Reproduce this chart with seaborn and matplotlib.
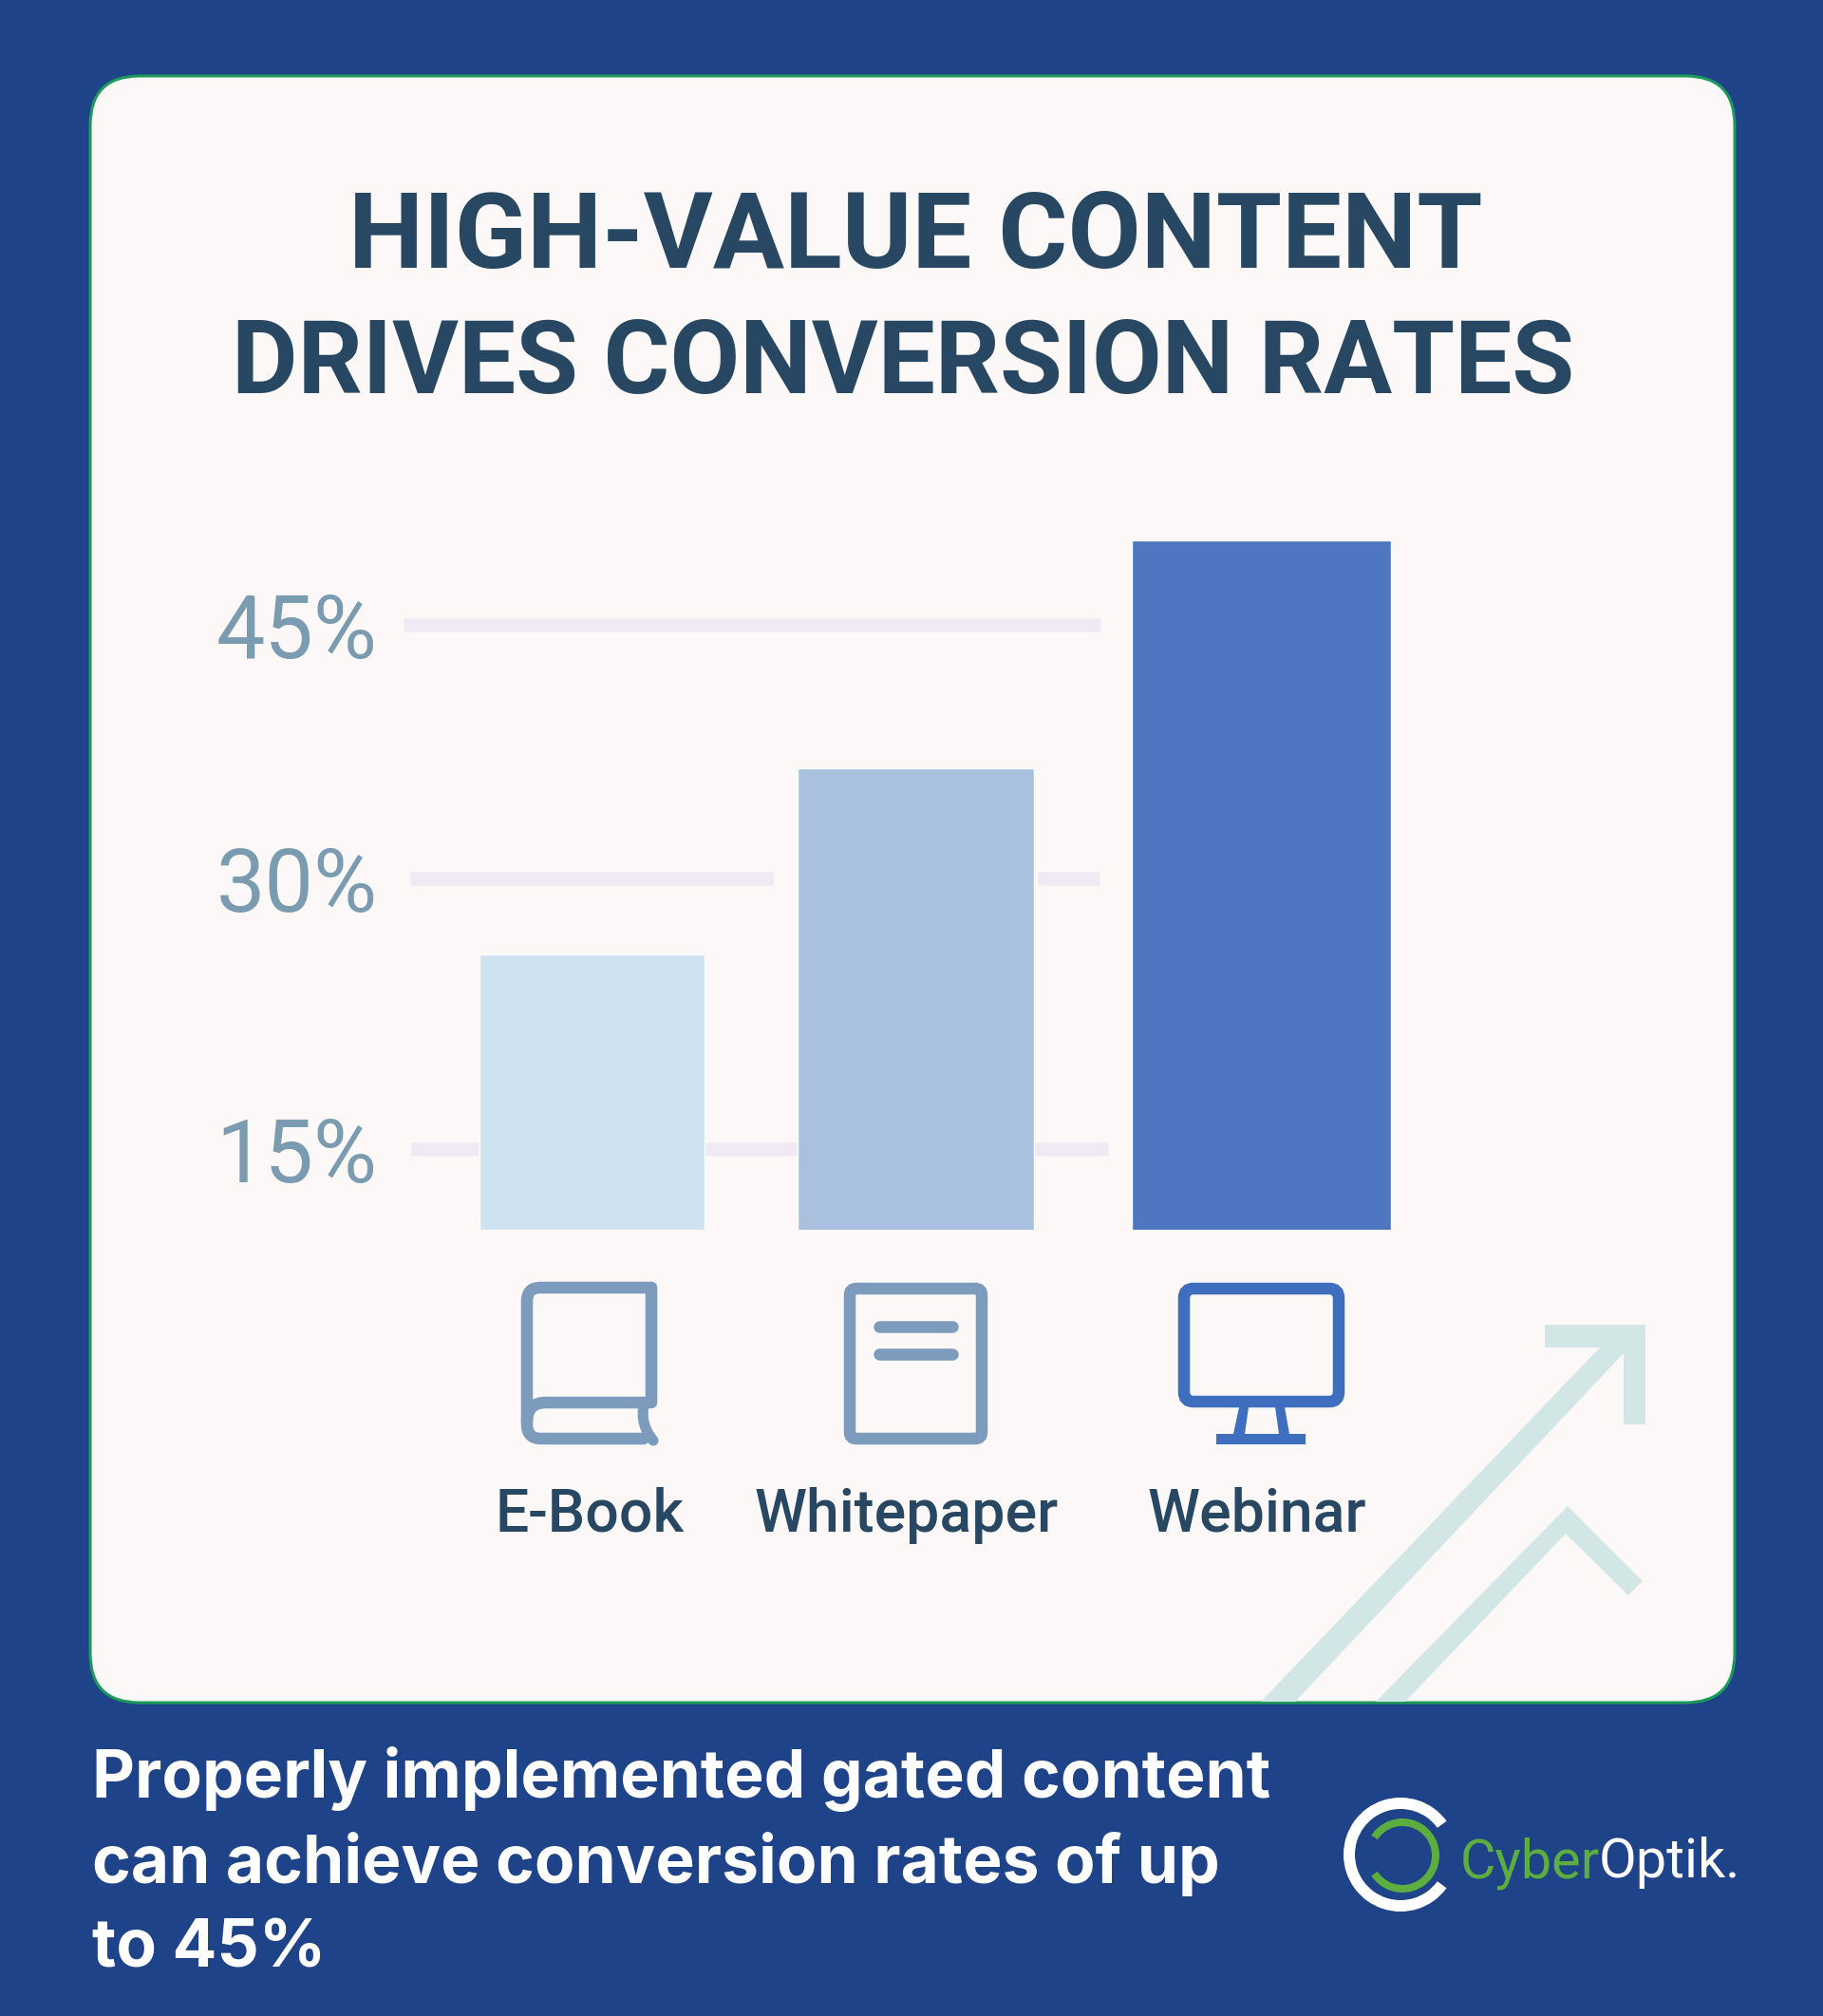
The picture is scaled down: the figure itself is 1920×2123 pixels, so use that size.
import numpy as np
import pandas as pd
import matplotlib
matplotlib.use("Agg")
import matplotlib.pyplot as plt
from matplotlib.patches import FancyBboxPatch, Polygon, Wedge, PathPatch
from matplotlib.path import Path
from matplotlib.ticker import NullLocator
import seaborn as sns

# ---- data ----
categories = ["E-Book", "Whitepaper", "Webinar"]
rates = [25.8, 36.5, 50.0]
tick_values = [15, 30, 45]
tick_labels = ["15%", "30%", "45%"]
title_lines = ["HIGH-VALUE CONTENT", "DRIVES CONVERSION RATES"]
caption_lines = ["Properly implemented gated content", "can achieve conversion rates of up", "to 45%"]

# ---- colours ----
NAVY = "#1F4388"
CARD = "#FBF8F7"
BORDER = "#1C9A5C"
BAR_COLORS = ["#CFE2EF", "#A9C1DE", "#4F77C1"]
ICON_GREY = "#7D9BBC"
ICON_BLUE = "#3F6EBE"
GRID = "#F0EAF4"
ARROW = "#D3E6E6"
TITLE = "#284762"
TICK = "#7A9BB0"
GREEN = "#5BAE3F"

W, H = 1920, 2123
sns.set_theme(style="white")
plt.rcParams["font.family"] = ["Inter", "DejaVu Sans"]

fig = plt.figure(figsize=(W / 100, H / 100), dpi=100, facecolor=NAVY)

# pixel-space layer for the card, icons and decoration
bg = fig.add_axes([0, 0, 1, 1], zorder=0)
bg.set_xlim(0, W)
bg.set_ylim(H, 0)
bg.axis("off")

bg.add_patch(FancyBboxPatch((95, 80), 1732, 1713, boxstyle="round,pad=0,rounding_size=52",
                            fc=CARD, ec=BORDER, lw=2.2, zorder=1))

# decorative arrows
bg.add_patch(Polygon([(1328, 1792), (1685, 1419), (1627, 1419), (1627, 1395), (1733, 1395),
                      (1733, 1500), (1710, 1500), (1710, 1425), (1364, 1792)],
                     fc=ARROW, ec="none", zorder=2))
bg.add_patch(Polygon([(1449, 1792), (1651, 1586), (1730, 1665), (1715, 1680), (1649, 1615), (1480, 1792)],
                     fc=ARROW, ec="none", zorder=2))


def stroke(verts, codes=None, color=ICON_GREY, lw=9.0):
    if codes is None:
        codes = [Path.MOVETO] + [Path.LINETO] * (len(verts) - 1)
    bg.add_patch(PathPatch(Path(verts, codes), fc="none", ec=color, lw=lw,
                           capstyle="round", joinstyle="round", zorder=3))


def round_rect(x0, y0, x1, y1, r, color, lw=9.0):
    bg.add_patch(FancyBboxPatch((x0, y0), x1 - x0, y1 - y0, boxstyle=f"round,pad=0,rounding_size={r}",
                                fc="none", ec=color, lw=lw, zorder=3))


M, L, C = Path.MOVETO, Path.LINETO, Path.CURVE3
# book icon
stroke([(686, 1356), (569, 1356), (555, 1356), (555, 1370), (555, 1500), (555, 1515), (570, 1515), (678, 1515)],
       [M, L, C, C, L, C, C, L])
stroke([(686, 1356), (686, 1477), (575, 1477), (555, 1477), (555, 1497)], [M, L, L, C, C])
stroke([(678, 1480), (674, 1500), (688, 1517)], [M, C, C], lw=8.0)
# document icon
round_rect(895, 1357, 1034, 1515, 7, ICON_GREY)
stroke([(926, 1397), (1003, 1397)])
stroke([(926, 1426), (1003, 1426)])
# monitor icon
round_rect(1247, 1357, 1410, 1476, 10, ICON_BLUE)
bg.add_patch(Polygon([(1305, 1482), (1315, 1482), (1311, 1510), (1347, 1510), (1343, 1482), (1353, 1482),
                      (1358, 1510), (1375, 1510), (1375, 1521), (1281, 1521), (1281, 1510), (1299, 1510)],
                     fc=ICON_BLUE, ec="none", zorder=3))

# logo
bg.add_patch(Wedge((1475, 1953), 60, 36, 324, width=12, fc="white", ec="none", zorder=3))
bg.add_patch(Wedge((1477, 1954), 39, -147 + 360, 147, width=8, fc=GREEN, ec="none", zorder=3))

# ---- main chart ----
ax_left, ax_right, ax_top, ax_bottom = 390, 1500, 400, 1295
ax = fig.add_axes([ax_left / W, 1 - ax_bottom / H, (ax_right - ax_left) / W, (ax_bottom - ax_top) / H], zorder=1)
ax.patch.set_alpha(0)

# the reference's value axis is not evenly spaced: follow its own tick positions
v_knots = np.array([-100.0, 15.0, 30.0, 45.0, 200.0])
p_knots = np.array([-3395.0, -1210.0, -925.0, -658.0, 2101.0])
ax.set_yscale("function", functions=(lambda v: np.interp(v, v_knots, p_knots),
                                     lambda p: np.interp(p, p_knots, v_knots)))

df = pd.DataFrame({"format": categories, "rate": rates})
sns.barplot(data=df, x="format", y="rate", hue="format", palette=BAR_COLORS, saturation=1,
            legend=False, dodge=False, ax=ax, zorder=3)

unit = 353.0
x0_px = 612.0
to_x = lambda px: (px - x0_px) / unit
ax.set_xlim(to_x(ax_left), to_x(ax_right))
ax.set_ylim(float(np.interp(-ax_bottom, p_knots, v_knots)), float(np.interp(-ax_top, p_knots, v_knots)))

# bars in the reference have individual widths and gaps
bar_edges = [(504.5, 741.5), (839.5, 1089), (1192, 1465)]
for patch, (a, b) in zip(ax.patches, bar_edges):
    patch.set_x(to_x(a))
    patch.set_width((b - a) / unit)

# gridlines (behind bars, broken where the reference breaks them)
grid_segments = {45: [(425, 1159)], 30: [(432, 814), (1093, 1158)], 15: [(433, 506), (742, 841), (1089, 1167)]}
for val, segs in grid_segments.items():
    for a, b in segs:
        ax.plot([to_x(a), to_x(b)], [val, val], color=GRID, lw=10.5, solid_capstyle="butt", zorder=1)

ax.set_yticks(tick_values)
ax.set_yticklabels(tick_labels)
ax.yaxis.set_minor_locator(NullLocator())
ax.tick_params(axis="y", length=0, pad=-5.5, labelsize=66, labelcolor=TICK)
for lab in ax.get_yticklabels():
    lab.set_family("Roboto")
ax.set_xticks([to_x(621), to_x(955), to_x(1324)])
ax.set_xticklabels(categories)
ax.tick_params(axis="x", length=0, pad=195, labelsize=45, labelcolor=TITLE)
for lab in ax.get_xticklabels():
    lab.set_family("Roboto")
    lab.set_fontweight("medium")
ax.set_xlabel("")
ax.set_ylabel("")
for s in ax.spines.values():
    s.set_visible(False)
ax.grid(False)

# ---- text ----
for line, x, y, size in zip(title_lines, (964, 951), (282, 414), (80.6, 77)):
    bg.text(x, y, line, ha="center", va="baseline", fontsize=size, fontweight="bold", color=TITLE,
            family="Roboto", zorder=4)
for line, y in zip(caption_lines, (1873, 1963, 2053)):
    bg.text(97, y, line, ha="left", va="center", fontsize=50, fontweight="bold", color="white", zorder=4)
bg.text(1538, 1977, "Cyber", ha="left", va="baseline", fontsize=41.5, color=GREEN, family="Roboto", zorder=4)
bg.text(1684, 1977, "Optik.", ha="left", va="baseline", fontsize=41.5, color="white", family="Roboto", zorder=4)

fig.savefig("out.png", dpi=100, facecolor=NAVY)
